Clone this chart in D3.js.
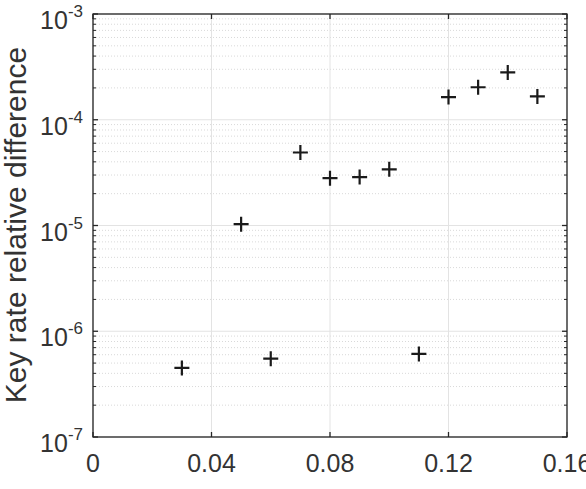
<!DOCTYPE html>
<html>
<head>
<meta charset="utf-8">
<script src="https://cdn.jsdelivr.net/npm/d3@7"></script>
<style>
  body { margin: 0; background: #fff; }
  svg text { font-family: "Liberation Sans", Arial, Helvetica, sans-serif; fill: #333; }
</style>
</head>
<body>
<div id="chart"></div>
<script>
// data
const xVals = [0.03, 0.05, 0.06, 0.07, 0.08, 0.09, 0.10, 0.11, 0.12, 0.13, 0.14, 0.15];
const yVals = [4.5e-7, 1.03e-5, 5.5e-7, 4.9e-5, 2.8e-5, 2.87e-5, 3.4e-5, 6.1e-7, 1.64e-4, 2.03e-4, 2.8e-4, 1.66e-4];
const xTicks = [0, 0.04, 0.08, 0.12, 0.16];
const xTickLabels = ["0", "0.04", "0.08", "0.12", "0.16"];
const yExps = [-7, -6, -5, -4, -3];

const W = 586, H = 489;
const m = {left: 93, right: 19, top: 14, bottom: 52};

const svg = d3.select('#chart').append('svg')
  .attr('width', W)
  .attr('height', H);

const x = d3.scaleLinear().domain([0, 0.16]).range([m.left, W - m.right]);
const y = d3.scaleLog().domain([1e-7, 1e-3]).range([H - m.bottom, m.top]);

// minor grid values
let minors = [];
yExps.slice(0, -1).forEach(e => {
  for (let k = 2; k <= 9; k++) minors.push(k * Math.pow(10, e));
});

const g = svg.append('g');

// minor grid (dotted)
g.selectAll('.minor-grid')
  .data(minors)
  .enter().append('line')
  .attr('x1', m.left).attr('x2', W - m.right)
  .attr('y1', d => y(d)).attr('y2', d => y(d))
  .style('stroke', '#d9d9d9')
  .style('stroke-width', 1)
  .style('stroke-dasharray', '1,2');

// major grid
g.selectAll('.ygrid')
  .data(yExps.map(e => Math.pow(10, e)))
  .enter().append('line')
  .attr('x1', m.left).attr('x2', W - m.right)
  .attr('y1', d => y(d)).attr('y2', d => y(d))
  .style('stroke', '#e3e3e3')
  .style('stroke-width', 1);

g.selectAll('.xgrid')
  .data(xTicks)
  .enter().append('line')
  .attr('x1', d => x(d)).attr('x2', d => x(d))
  .attr('y1', m.top).attr('y2', H - m.bottom)
  .style('stroke', '#e3e3e3')
  .style('stroke-width', 1);

// ticks (inside, all sides)
const axisColor = '#262626';
xTicks.forEach(t => {
  g.append('line').attr('x1', x(t)).attr('x2', x(t))
    .attr('y1', H - m.bottom).attr('y2', H - m.bottom - 5)
    .style('stroke', axisColor).style('stroke-width', 1.3);
  g.append('line').attr('x1', x(t)).attr('x2', x(t))
    .attr('y1', m.top).attr('y2', m.top + 5)
    .style('stroke', axisColor).style('stroke-width', 1.3);
});
yExps.forEach(e => {
  const yy = y(Math.pow(10, e));
  g.append('line').attr('x1', m.left).attr('x2', m.left + 5)
    .attr('y1', yy).attr('y2', yy).style('stroke', axisColor).style('stroke-width', 1.3);
  g.append('line').attr('x1', W - m.right).attr('x2', W - m.right - 5)
    .attr('y1', yy).attr('y2', yy).style('stroke', axisColor).style('stroke-width', 1.3);
});
minors.forEach(v => {
  const yy = y(v);
  g.append('line').attr('x1', m.left).attr('x2', m.left + 3)
    .attr('y1', yy).attr('y2', yy).style('stroke', axisColor).style('stroke-width', 1);
  g.append('line').attr('x1', W - m.right).attr('x2', W - m.right - 3)
    .attr('y1', yy).attr('y2', yy).style('stroke', axisColor).style('stroke-width', 1);
});

// box
g.append('rect')
  .attr('x', m.left).attr('y', m.top)
  .attr('width', W - m.left - m.right)
  .attr('height', H - m.top - m.bottom)
  .style('fill', 'none')
  .style('stroke', axisColor)
  .style('stroke-width', 1.3);

// x tick labels
g.selectAll('.xlab')
  .data(xTicks)
  .enter().append('text')
  .attr('x', d => x(d))
  .attr('y', H - m.bottom + 35)
  .attr('text-anchor', 'middle')
  .style('font-size', '25px')
  .text((d, i) => xTickLabels[i]);

// y tick labels 10^e
yExps.forEach(e => {
  const t = g.append('text')
    .attr('x', m.left - 10)
    .attr('y', y(Math.pow(10, e)) + 15)
    .attr('text-anchor', 'end')
    .style('font-size', '25px');
  t.append('tspan').text('10');
  t.append('tspan')
    .attr('dy', -12)
    .style('font-size', '17px')
    .text(String(e));
});

// y label
svg.append('text')
  .attr('transform', `translate(26,225) rotate(-90)`)
  .attr('text-anchor', 'middle')
  .style('font-size', '30px')
  .text('Key rate relative difference');

// markers
const s = 7.5;
g.selectAll('.pt')
  .data(xVals.map((v, i) => ({x: v, y: yVals[i]})))
  .enter().append('path')
  .attr('d', d => {
    const px = x(d.x), py = y(d.y);
    return `M${px - s},${py}H${px + s}M${px},${py - s}V${py + s}`;
  })
  .style('stroke', '#1a1a1a')
  .style('stroke-width', 2.2)
  .style('fill', 'none');
</script>
</body>
</html>
